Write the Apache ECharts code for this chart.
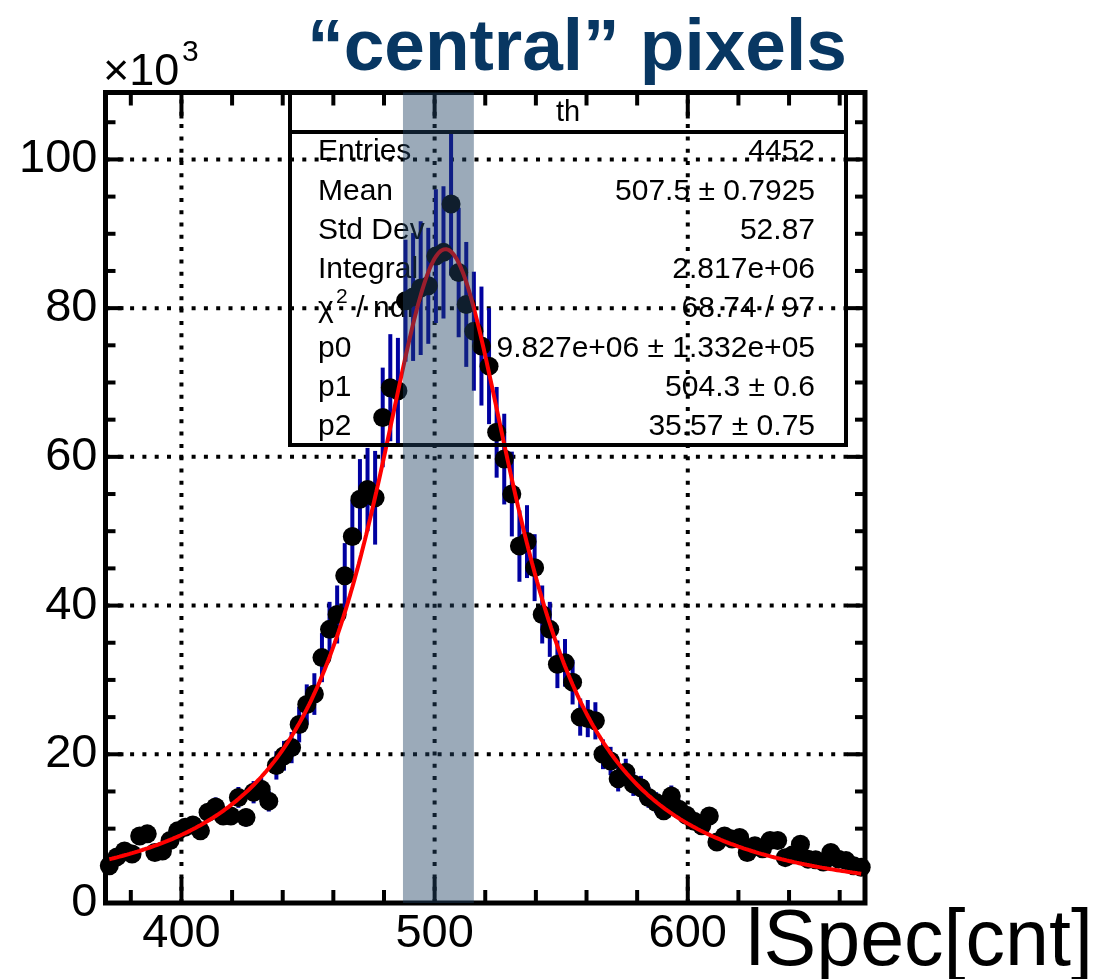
<!DOCTYPE html>
<html>
<head>
<meta charset="utf-8">
<script src="https://cdn.jsdelivr.net/npm/echarts@6/dist/echarts.min.js"></script>
<style>
  html, body { margin: 0; padding: 0; background: #ffffff; }
  #chart { width: 1102px; height: 979px; }
</style>
</head>
<body>
<div id="chart"></div>
<script>
// Histogram "th": 100 bins of width 3 between 370 and 670, contents in units of 10^3
const binCenters = [
  371.5, 374.5, 377.5, 380.5, 383.5, 386.5, 389.5, 392.5, 395.5, 398.5,
  401.5, 404.5, 407.5, 410.5, 413.5, 416.5, 419.5, 422.5, 425.5, 428.5,
  431.5, 434.5, 437.5, 440.5, 443.5, 446.5, 449.5, 452.5, 455.5, 458.5,
  461.5, 464.5, 467.5, 470.5, 473.5, 476.5, 479.5, 482.5, 485.5, 488.5,
  491.5, 494.5, 497.5, 500.5, 503.5, 506.5, 509.5, 512.5, 515.5, 518.5,
  521.5, 524.5, 527.5, 530.5, 533.5, 536.5, 539.5, 542.5, 545.5, 548.5,
  551.5, 554.5, 557.5, 560.5, 563.5, 566.5, 569.5, 572.5, 575.5, 578.5,
  581.5, 584.5, 587.5, 590.5, 593.5, 596.5, 599.5, 602.5, 605.5, 608.5,
  611.5, 614.5, 617.5, 620.5, 623.5, 626.5, 629.5, 632.5, 635.5, 638.5,
  641.5, 644.5, 647.5, 650.5, 653.5, 656.5, 659.5, 662.5, 665.5, 668.5
];
const counts = [
  5.0, 6.2, 7.0, 6.6, 9.0, 9.3, 6.8, 7.0, 8.4, 9.7,
  10.2, 10.5, 9.7, 12.2, 12.9, 11.7, 11.7, 14.2, 11.5, 14.9,
  15.3, 13.7, 18.5, 19.8, 20.9, 24.0, 26.7, 28.1, 33.0, 36.8,
  38.8, 44.0, 49.3, 54.3, 55.6, 54.5, 65.3, 69.3, 68.9, 81.0,
  81.5, 82.7, 83.0, 87.0, 87.5, 94.0, 84.8, 80.5, 76.9, 74.9,
  72.2, 63.3, 59.7, 55.0, 48.0, 48.6, 45.1, 38.8, 36.8, 32.1,
  32.3, 29.7, 25.0, 24.8, 24.5, 20.0, 19.1, 16.7, 17.6, 16.0,
  15.5, 14.2, 13.5, 12.4, 14.4, 12.6, 11.8, 11.0, 10.4, 11.7,
  8.2, 9.0, 8.6, 8.8, 6.8, 7.7, 7.3, 8.4, 8.4, 6.1,
  6.5, 7.9, 5.9, 5.8, 5.5, 6.8, 5.9, 5.7, 5.0, 4.8
];
const countErrors = [
  0.5, 0.6, 0.7, 0.7, 0.9, 0.9, 0.7, 0.7, 0.8, 1.0,
  1.0, 1.1, 1.0, 1.2, 1.3, 1.2, 1.2, 1.4, 1.2, 1.5,
  1.5, 1.4, 1.9, 2.0, 2.1, 2.4, 2.7, 2.8, 3.3, 3.7,
  3.9, 4.4, 4.9, 5.4, 5.6, 6.3, 6.7, 7.2, 7.1, 8.2,
  8.6, 9.0, 7.8, 9.0, 8.9, 9.6, 8.7, 8.4, 8.0, 8.0,
  7.8, 6.1, 6.1, 5.7, 4.8, 4.9, 4.5, 3.9, 3.7, 3.2,
  3.2, 3.0, 2.5, 2.5, 2.5, 2.0, 1.9, 1.7, 1.8, 1.6,
  1.6, 1.4, 1.4, 1.2, 1.4, 1.3, 1.2, 1.1, 1.0, 1.2,
  0.8, 0.9, 0.9, 0.9, 0.7, 0.8, 0.7, 0.8, 0.8, 0.6,
  0.7, 0.8, 0.6, 0.6, 0.6, 0.7, 0.6, 0.6, 0.5, 0.5
];

// Lorentzian fit result: p0 / pi * p2 / ((x - p1)^2 + p2^2)
const fitParams = [9.827e6, 504.3, 35.57];
const fitRange = [371.5, 668.5];

// Axis ranges and ticks
const xRange = [370, 670];
const yRange = [0, 109];
const xMajorTicks = [400, 500, 600];
const xMinorTicks = [380, 420, 440, 460, 480, 520, 540, 560, 580, 620, 640, 660];
const yMajorTicks = [20, 40, 60, 80, 100];
const yMinorTicks = [5, 10, 15, 25, 30, 35, 45, 50, 55, 65, 70, 75, 85, 90, 95, 105];

// Highlighted "central" window
const bandRange = [487.5, 515.5];

// Statistics box rows
const statsTitle = 'th';
const statsLabels = ['Entries', 'Mean', 'Std Dev', 'Integral', 'χ', 'p0', 'p1', 'p2'];
const statsValues = ['4452', '507.5 ± 0.7925', '52.87', '2.817e+06', '68.74 / 97',
  '9.827e+06 ± 1.332e+05', '504.3 ± 0.6', '35.57 ± 0.75'];

const titleText = '“central” pixels';
const xTitle = 'lSpec[cnt]';

// ---- build the drawing ----
const FONT = '"Liberation Sans", Arial, Helvetica, sans-serif';

const points = binCenters.map((x, i) => [x, counts[i]]);
const errorBars = binCenters.map((x, i) => [x, counts[i], countErrors[i]]);

function lorentz(x) {
  const [p0, p1, p2] = fitParams;
  return p0 / Math.PI * p2 / ((x - p1) * (x - p1) + p2 * p2);
}
const fitCurve = [];
for (let x = fitRange[0]; x <= fitRange[1] + 1e-9; x += 0.5) {
  fitCurve.push([x, lorentz(x) / 1000]);
}

const xTickData = xMajorTicks.map(v => [v, 1]).concat(xMinorTicks.map(v => [v, 0]));
const yTickData = yMajorTicks.map(v => [v, 1]).concat(yMinorTicks.map(v => [v, 0]));

const GRID = { left: 105.5, top: 92.5, width: 759.5, height: 810.5 };

function seg(a, b, style) {
  return { type: 'line', shape: { x1: a[0], y1: a[1], x2: b[0], y2: b[1] }, style: style };
}

// Stats box graphics
const box = { x: 290, y: 92, w: 556, h: 353, header: 132 };
const rowY0 = 152, rowStep = 39.3;
const textLeft = 318, textRight = 815;
const statsFont = 30;
const statsGraphics = [
  { type: 'rect', z: 5, shape: { x: box.x, y: box.y, width: box.w, height: box.h },
    style: { fill: 'none', stroke: '#000', lineWidth: 4 } },
  { type: 'line', z: 5, shape: { x1: box.x, y1: box.header, x2: box.x + box.w, y2: box.header },
    style: { stroke: '#000', lineWidth: 4 } },
  { type: 'text', z: 5, x: box.x + box.w / 2, y: 113,
    style: { text: statsTitle, fontSize: 29, fontFamily: FONT, fill: '#000', align: 'center', verticalAlign: 'middle' } }
];
statsLabels.forEach((lab, i) => {
  const y = rowY0 + i * rowStep;
  statsGraphics.push({ type: 'text', z: 5, x: textLeft, y: y,
    style: { text: lab, fontSize: statsFont, fontFamily: FONT, fill: '#000', align: 'left', verticalAlign: 'middle' } });
  statsGraphics.push({ type: 'text', z: 5, x: textRight, y: y,
    style: { text: statsValues[i], fontSize: statsFont, fontFamily: FONT, fill: '#000', align: 'right', verticalAlign: 'middle' } });
});
// chi-square row: superscript and " / ndf"
const chiY = rowY0 + 4 * rowStep;
statsGraphics.push({ type: 'text', z: 5, x: textLeft + 18, y: chiY - 12,
  style: { text: '2', fontSize: 21, fontFamily: FONT, fill: '#000', align: 'left', verticalAlign: 'middle' } });
statsGraphics.push({ type: 'text', z: 5, x: textLeft + 30, y: chiY,
  style: { text: ' / ndf', fontSize: statsFont, fontFamily: FONT, fill: '#000', align: 'left', verticalAlign: 'middle' } });

const chart = echarts.init(document.getElementById('chart'), null, { renderer: 'canvas' });

chart.setOption({
  animation: false,
  backgroundColor: '#ffffff',
  grid: Object.assign({
    show: true, borderColor: '#000', borderWidth: 5, backgroundColor: 'transparent',
    containLabel: false, outerBoundsMode: 'none'
  }, GRID),
  xAxis: {
    type: 'value', min: xRange[0], max: xRange[1], interval: 10,
    axisLine: { show: false }, axisTick: { show: false }, splitLine: { show: false },
    axisLabel: {
      interval: 0, hideOverlap: false, margin: 8,
      fontSize: 47, fontFamily: FONT, color: '#000',
      formatter: v => (xMajorTicks.indexOf(v) >= 0 ? String(v) : '')
    }
  },
  yAxis: {
    type: 'value', min: yRange[0], max: yRange[1], interval: 20,
    axisLine: { show: false }, axisTick: { show: false }, splitLine: { show: false },
    axisLabel: {
      margin: 8, fontSize: 47, fontFamily: FONT, color: '#000', showMaxLabel: false,
      formatter: v => (v % 20 === 0 && v <= 100 ? String(v) : '')
    }
  },
  graphic: [
    { type: 'text', x: 577, y: 50,
      style: { text: titleText, fontSize: 73, fontWeight: 'bold', fontFamily: FONT, fill: '#083762',
        align: 'center', verticalAlign: 'middle' } },
    { type: 'text', x: 103, y: 73,
      style: { text: '×10', fontSize: 45, fontFamily: FONT, fill: '#000', align: 'left', verticalAlign: 'middle' } },
    { type: 'text', x: 182, y: 53,
      style: { text: '3', fontSize: 30, fontFamily: FONT, fill: '#000', align: 'left', verticalAlign: 'middle' } },
    { type: 'text', x: 746, y: 943,
      style: { text: xTitle, fontSize: 79, fontFamily: FONT, fill: '#000', align: 'left', verticalAlign: 'middle' } }
  ].concat(statsGraphics),
  series: [
    // dotted grid at the major ticks
    {
      type: 'custom', silent: true, z: 1,
      data: xMajorTicks.map(v => [v]),
      renderItem: (p, api) => {
        const v = api.value(0);
        return seg(api.coord([v, yRange[0]]), api.coord([v, yRange[1]]),
          { stroke: '#000', lineWidth: 4, lineDash: [4, 8.3] });
      }
    },
    {
      type: 'custom', silent: true, z: 1,
      data: yMajorTicks.map(v => [v]),
      renderItem: (p, api) => {
        const v = api.value(0);
        return seg(api.coord([xRange[0], v]), api.coord([xRange[1], v]),
          { stroke: '#000', lineWidth: 4, lineDash: [4, 8.3] });
      }
    },
    // ticks on bottom and top edges
    {
      type: 'custom', silent: true, z: 1,
      data: xTickData,
      renderItem: (p, api) => {
        const v = api.value(0), len = api.value(1) ? 26 : 13;
        const b = api.coord([v, yRange[0]]), t = api.coord([v, yRange[1]]);
        const st = { stroke: '#000', lineWidth: 4 };
        return { type: 'group', children: [
          seg(b, [b[0], b[1] - len], st), seg(t, [t[0], t[1] + len], st)
        ] };
      }
    },
    // ticks on left and right edges
    {
      type: 'custom', silent: true, z: 1,
      data: yTickData,
      renderItem: (p, api) => {
        const v = api.value(0), len = api.value(1) ? 18 : 10;
        const l = api.coord([xRange[0], v]), r = api.coord([xRange[1], v]);
        const st = { stroke: '#000', lineWidth: 4 };
        return { type: 'group', children: [
          seg(l, [l[0] + len, l[1]], st), seg(r, [r[0] - len, r[1]], st)
        ] };
      }
    },
    // vertical error bars
    {
      type: 'custom', silent: true, z: 2,
      data: errorBars,
      renderItem: (p, api) => {
        const x = api.value(0), y = api.value(1), e = api.value(2);
        return seg(api.coord([x, y - e]), api.coord([x, y + e]), { stroke: '#0000a0', lineWidth: 4 });
      }
    },
    // bin contents
    {
      type: 'scatter', z: 3, silent: true,
      data: points, symbol: 'circle', symbolSize: 19,
      itemStyle: { color: '#000', opacity: 1 }
    },
    // fit function
    {
      type: 'line', z: 4, silent: true,
      data: fitCurve, showSymbol: false, smooth: false,
      lineStyle: { color: '#ff0000', width: 4 }
    },
    // translucent band marking the central window
    {
      type: 'custom', silent: true, z: 10,
      data: [[bandRange[0], bandRange[1]]],
      renderItem: (p, api) => {
        const a = api.coord([api.value(0), yRange[1]]);
        const b = api.coord([api.value(1), yRange[0]]);
        return { type: 'rect', shape: { x: a[0], y: a[1], width: b[0] - a[0], height: b[1] - a[1] },
          style: { fill: 'rgba(33,67,100,0.45)' } };
      }
    }
  ]
});
</script>
</body>
</html>
